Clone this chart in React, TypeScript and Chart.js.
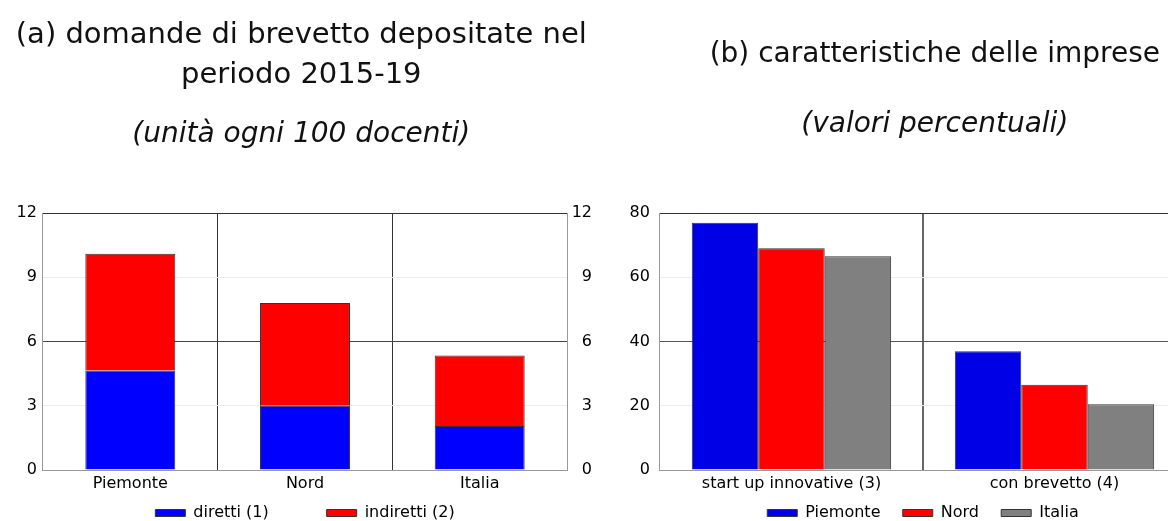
import { useEffect, useRef } from "react";
import { Chart, registerables } from "chart.js";

Chart.register(...registerables);

// ---------- Panel (a) data ----------
const regionsA = ["Piemonte", "Nord", "Italia"];
const seriesNamesA = ["diretti (1)", "indiretti (2)"];
const direttiValues = [4.65, 3.0, 2.05];
const indirettiValues = [5.45, 4.8, 3.3];
const ticksA = [0, 3, 6, 9, 12];
const titleA = ["(a) domande di brevetto depositate nel", "periodo 2015-19"];
const subtitleA = "(unità ogni 100 docenti)";

// ---------- Panel (b) data ----------
const groupsB = ["start up innovative (3)", "con brevetto (4)"];
const seriesNamesB = ["Piemonte", "Nord", "Italia"];
const piemonteValues = [77, 37];
const nordValues = [69, 26.5];
const italiaValues = [66.5, 20.5];
const ticksB = [0, 20, 40, 60, 80];
const titleB = "(b) caratteristiche delle imprese";
const subtitleB = "(valori percentuali)";

const FONT = "DejaVu Sans";
const NB = "\u00a0";

function yGrid(ticks: number[], mid: string) {
  const max = ticks[ticks.length - 1];
  const middle = ticks[Math.floor(ticks.length / 2)];
  return (ctx: any) => {
    const v = ctx.tick ? ctx.tick.value : null;
    if (v === max) return "#333333";
    if (v === middle) return mid;
    if (v === ticks[0]) return "rgba(0,0,0,0)";
    return "#ececec";
  };
}

function xGrid(n: number, divider: string) {
  return (ctx: any) => {
    if (ctx.index === 0) return "rgba(0,0,0,0)";
    if (ctx.index === n) return "#999999";
    return divider;
  };
}

function legendWithGaps(gap: number) {
  return (chart: any) => {
    const items = Chart.defaults.plugins.legend.labels.generateLabels(chart);
    return items.map((it: any, i: number) =>
      i < items.length - 1 ? { ...it, text: it.text + NB.repeat(gap) } : it
    );
  };
}

export default function App() {
  const refA = useRef<HTMLCanvasElement>(null);
  const refB = useRef<HTMLCanvasElement>(null);

  useEffect(() => {
    const tickFont = { family: FONT, size: 16 };
    const border = "#333333";
    const subFont = { family: FONT, size: 28, weight: "normal", style: "italic", lineHeight: "40px" };

    const chartA = new Chart(refA.current!, {
      type: "bar",
      data: {
        labels: regionsA,
        datasets: [
          {
            label: seriesNamesA[0],
            data: direttiValues,
            backgroundColor: "#0000ff",
            borderColor: border,
            borderWidth: 1,
            categoryPercentage: 0.515,
            barPercentage: 1,
          },
          {
            label: seriesNamesA[1],
            data: indirettiValues,
            backgroundColor: "#ff0000",
            borderColor: border,
            borderWidth: 1,
            categoryPercentage: 0.515,
            barPercentage: 1,
          },
        ],
      },
      options: {
        responsive: false,
        animation: false,
        layout: { padding: { left: 10.6, right: 4, top: 0, bottom: 0 } },
        scales: {
          x: {
            stacked: true,
            grid: { color: xGrid(regionsA.length, "#333333"), drawTicks: false, offset: true },
            border: { color: "#999999" },
            ticks: { font: tickFont, color: "#000", padding: 4.4 },
          },
          y: {
            stacked: true,
            min: ticksA[0],
            max: ticksA[ticksA.length - 1],
            ticks: { stepSize: ticksA[1] - ticksA[0], font: tickFont, color: "#000", padding: 6 },
            grid: { color: yGrid(ticksA, "#444444"), drawTicks: false },
            border: { color: "#999999" },
          },
          y2: {
            position: "right",
            min: ticksA[0],
            max: ticksA[ticksA.length - 1],
            ticks: {
              stepSize: ticksA[1] - ticksA[0],
              font: tickFont,
              color: "#000",
              padding: 2.3,
              crossAlign: "far",
            },
            grid: { drawOnChartArea: false, drawTicks: false },
            border: { color: "#999999" },
          },
        },
        plugins: {
          title: {
            display: true,
            text: titleA,
            color: "#111",
            font: { family: FONT, size: 29, weight: "normal", lineHeight: "40px" },
            padding: { top: 15, bottom: 20 },
          },
          subtitle: {
            display: true,
            text: subtitleA,
            color: "#111",
            font: subFont,
            padding: { top: 0, bottom: 58 },
          },
          legend: {
            position: "bottom",
            fullSize: false,
            labels: {
              boxWidth: 30,
              boxHeight: 7,
              padding: 7,
              color: "#000",
              font: { family: FONT, size: 16 },
              generateLabels: legendWithGaps(10),
            },
          },
          tooltip: { enabled: false },
        },
      } as any,
    });

    const chartB = new Chart(refB.current!, {
      type: "bar",
      data: {
        labels: groupsB,
        datasets: [
          { label: seriesNamesB[0], data: piemonteValues, backgroundColor: "#0000e6" },
          { label: seriesNamesB[1], data: nordValues, backgroundColor: "#ff0000" },
          { label: seriesNamesB[2], data: italiaValues, backgroundColor: "#808080" },
        ].map((d) => ({
          ...d,
          borderColor: border,
          borderWidth: 1,
          categoryPercentage: 0.758,
          barPercentage: 1,
        })),
      },
      options: {
        responsive: false,
        animation: false,
        layout: { padding: { left: 19.6, right: 20, top: 0, bottom: 0 } },
        scales: {
          x: {
            grid: { color: xGrid(groupsB.length, "#666666"), lineWidth: 2, drawTicks: false, offset: true },
            border: { color: "#999999" },
            ticks: { font: tickFont, color: "#000", padding: 4.4 },
          },
          y: {
            min: ticksB[0],
            max: ticksB[ticksB.length - 1],
            ticks: { stepSize: ticksB[1] - ticksB[0], font: tickFont, color: "#000", padding: 10 },
            grid: { color: yGrid(ticksB, "#555555"), drawTicks: false },
            border: { color: "#999999" },
          },
          // invisible spacer axis on the right (panel is cropped in the source picture)
          y2: {
            position: "right",
            min: ticksB[0],
            max: ticksB[ticksB.length - 1],
            ticks: { display: false },
            grid: { display: false, drawTicks: false },
            border: { display: false },
            afterFit: (scale: any) => {
              scale.width = 64;
            },
          },
        },
        plugins: {
          title: {
            display: true,
            text: titleB,
            color: "#111",
            font: { family: FONT, size: 28, weight: "normal", lineHeight: "40px" },
            padding: { top: 35, bottom: 30 },
          },
          subtitle: {
            display: true,
            text: subtitleB,
            color: "#111",
            font: subFont,
            padding: { top: 0, bottom: 68 },
          },
          legend: {
            position: "bottom",
            fullSize: false,
            labels: {
              boxWidth: 30,
              boxHeight: 7,
              padding: 7,
              color: "#000",
              font: { family: FONT, size: 16 },
              generateLabels: legendWithGaps(3),
            },
          },
          tooltip: { enabled: false },
        },
      } as any,
    });

    return () => {
      chartA.destroy();
      chartB.destroy();
    };
  }, []);

  return (
    <div
      style={{
        position: "absolute",
        left: 0,
        top: 0,
        width: 1168,
        height: 521,
        overflow: "hidden",
        background: "#fff",
      }}
    >
      <canvas
        ref={refA}
        width={596}
        height={531}
        style={{ position: "absolute", left: 0, top: 0, width: 596, height: 531 }}
      />
      <canvas
        ref={refB}
        width={670}
        height={531}
        style={{ position: "absolute", left: 600, top: 0, width: 670, height: 531 }}
      />
    </div>
  );
}
